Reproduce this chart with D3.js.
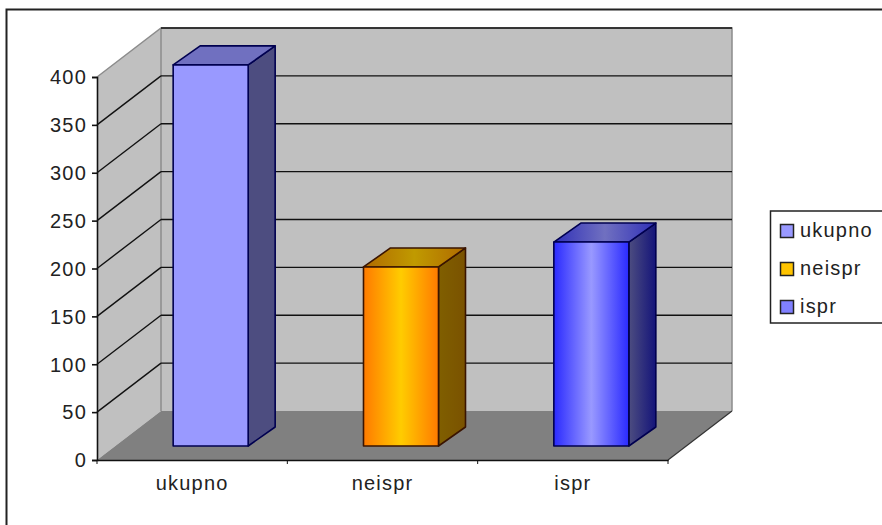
<!DOCTYPE html>
<html>
<head>
<meta charset="utf-8">
<script src="https://cdn.jsdelivr.net/npm/d3@7/dist/d3.min.js"></script>
<style>
html,body{margin:0;padding:0;background:#fff}
svg{display:block}
text{font-family:"Liberation Sans",Arial,sans-serif;fill:#222;letter-spacing:1.2px}
</style>
</head>
<body>
<svg id="chart" width="882" height="525"></svg>
<script>
// Chart data
const categories = ["ukupno", "neispr", "ispr"];
const seriesValues = [398, 187, 213];
const yTicks = [0, 50, 100, 150, 200, 250, 300, 350, 400];

const frontColors = [["#9999ff", "#9999ff"], ["#ff7a00", "#ffcc00"], ["#2a2aff", "#9999ff"]];
const topColors = [["#7070c0", "#7070c0"], ["#b06a00", "#c09a00"], ["#3030b8", "#7070c0"]];
const sideColors = [["#4d4d80", "#4d4d80"], ["#805f00", "#7a5200"], ["#4d4d80", "#14147a"]];
const edgeColors = ["#000050", "#3a1400", "#000050"];
const legendSwatches = ["#9999ff", "#ffc400", "#8080ff"];

const svg = d3.select("#chart");
const defs = svg.append("defs");

// Plot frame: front floor edge, axis extent and the depth of the 3D box
const x0 = 97, x1 = 668, depthX = 64, depthY = -49;
const x = d3.scaleBand().domain(categories).range([x0, x1]);
const y = d3.scaleLinear().domain([0, 400]).range([460, 77]);

const pts = p => p.map(q => q.join(",")).join(" ");

// Outer chart border, running off the right and bottom of the page
svg.append("path").attr("d", "M6.5,525V9.5H882").attr("fill", "none")
  .attr("stroke", "#222").attr("stroke-width", 2);

// Side wall, back wall and floor
const wallTop = y(400) + depthY;
svg.append("polygon").attr("fill", "#c0c0c0")
  .attr("points", pts([[x0, y(400)], [x0 + depthX, wallTop], [x0 + depthX, y(0) + depthY], [x0, y(0)]]));
svg.append("rect").attr("fill", "#c0c0c0")
  .attr("x", x0 + depthX).attr("y", wallTop)
  .attr("width", x1 - x0).attr("height", y(0) - y(400));
svg.append("polygon").attr("fill", "#808080")
  .attr("points", pts([[x0, y(0)], [x1, y(0)], [x1 + depthX, y(0) + depthY], [x0 + depthX, y(0) + depthY]]));

// Wall outline
svg.append("path").attr("fill", "none").attr("stroke", "#8c8c8c").attr("stroke-width", 1.5)
  .attr("d", `M${x0},${y(400)}L${x0 + depthX},${wallTop}H${x1 + depthX}V${y(0) + depthY}M${x0 + depthX},${wallTop}V${y(0) + depthY}`);

// Gridlines across the side and back walls
const grid = svg.append("g").attr("fill", "none").attr("stroke", "#111").attr("stroke-width", 1.4);
yTicks.filter(t => t > 0).forEach(t => {
  if (t < 400) {
    grid.append("line").attr("x1", x0).attr("y1", y(t)).attr("x2", x0 + depthX).attr("y2", y(t) + depthY);
  }
  grid.append("line").attr("x1", x0 + depthX).attr("y1", y(t) + depthY).attr("x2", x1 + depthX).attr("y2", y(t) + depthY);
});

// Floor edge running back on the right
svg.append("line").attr("x1", x1).attr("y1", y(0)).attr("x2", x1 + depthX).attr("y2", y(0) + depthY)
  .attr("stroke", "#333").attr("stroke-width", 1.2);

// Axes
const yAxis = d3.axisLeft(y).tickValues(yTicks).tickSize(5).tickPadding(5);
const gy = svg.append("g").attr("transform", `translate(${x0},0)`).call(yAxis);
gy.selectAll("text").style("font-size", "20px").attr("dy", "0.34em").attr("fill", "#222");

const xAxis = d3.axisBottom(x).tickSize(0).tickPadding(16);
const gx = svg.append("g").attr("transform", `translate(0,${y(0)})`).call(xAxis);
gx.selectAll("text").style("font-size", "20px").attr("fill", "#222");
[x0, ...categories.map(c => x(c) + x.bandwidth())].forEach(px => {
  gx.append("line").attr("x1", px).attr("x2", px).attr("y1", 0).attr("y2", 4).attr("stroke", "#111");
});
[gy, gx].forEach(g => g.selectAll(".domain,.tick line").attr("stroke", "#111").attr("stroke-width", 1.6));

// Horizontal gradient with the lighter colour in the middle of the face
function gradient(id, pair) {
  const g = defs.append("linearGradient").attr("id", id).attr("x1", 0).attr("x2", 1).attr("y1", 0).attr("y2", 0);
  g.append("stop").attr("offset", "0%").attr("stop-color", pair[0]);
  g.append("stop").attr("offset", "50%").attr("stop-color", pair[1]);
  g.append("stop").attr("offset", "100%").attr("stop-color", pair[0]);
}
// One-way horizontal gradient for the receding side face
function sideGradient(id, pair) {
  const g = defs.append("linearGradient").attr("id", id).attr("x1", 0).attr("x2", 1).attr("y1", 0).attr("y2", 0);
  g.append("stop").attr("offset", "0%").attr("stop-color", pair[0]);
  g.append("stop").attr("offset", "100%").attr("stop-color", pair[1]);
}

// Bars stand in the middle of the floor depth
const barInsetX = 19, barInsetY = -14, barDepthX = 27, barDepthY = -19;
const barWidth = 75, barShift = -0.5;

categories.forEach((c, i) => {
  gradient(`front${i}`, frontColors[i]);
  gradient(`top${i}`, topColors[i]);
  sideGradient(`side${i}`, sideColors[i]);

  const xc = x(c) + x.bandwidth() / 2 + barInsetX + barShift;
  const l = xc - barWidth / 2, r = xc + barWidth / 2;
  const b = y(0) + barInsetY;
  const t = y(seriesValues[i]) + barInsetY;
  const g = svg.append("g").attr("stroke", edgeColors[i]).attr("stroke-width", 1.6).attr("stroke-linejoin", "round");

  g.append("polygon").attr("fill", `url(#side${i})`)
    .attr("points", pts([[r, t], [r + barDepthX, t + barDepthY], [r + barDepthX, b + barDepthY], [r, b]]));
  g.append("polygon").attr("fill", `url(#top${i})`)
    .attr("points", pts([[l, t], [l + barDepthX, t + barDepthY], [r + barDepthX, t + barDepthY], [r, t]]));
  g.append("rect").attr("fill", `url(#front${i})`)
    .attr("x", l).attr("y", t).attr("width", r - l).attr("height", b - t);
});

// Legend box, clipped by the page edge on the right
const legend = svg.append("g");
legend.append("rect").attr("x", 770.5).attr("y", 211).attr("width", 120).attr("height", 112)
  .attr("fill", "#fff").attr("stroke", "#222").attr("stroke-width", 1.5);
const legendRow = d3.scalePoint().domain(categories).range([231, 307]);
categories.forEach((c, i) => {
  legend.append("rect").attr("x", 780.5).attr("y", legendRow(c) - 6.5).attr("width", 13).attr("height", 13)
    .attr("fill", legendSwatches[i]).attr("stroke", "#222").attr("stroke-width", 1.5);
  legend.append("text").attr("x", 800).attr("y", legendRow(c)).attr("dy", "0.3em")
    .style("font-size", "20px").text(c);
});
</script>
</body>
</html>
